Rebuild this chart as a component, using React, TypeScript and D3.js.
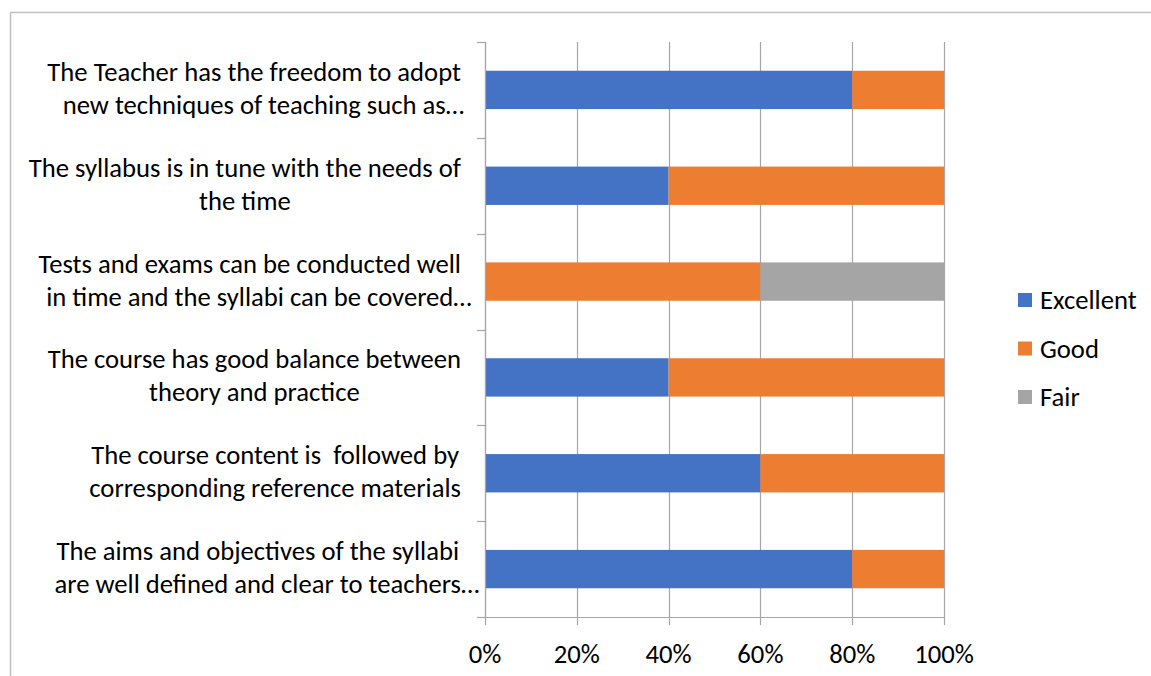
import { useEffect, useRef } from 'react';
import * as d3 from 'd3';

// categories top to bottom, each split into the two lines the chart shows
const categories: string[][] = [
    ['The Teacher has the freedom to adopt', 'new techniques of teaching such as…'],
    ['The syllabus is in tune with the needs of', 'the time'],
    ['Tests and exams can be conducted well', 'in time and the syllabi can be covered…'],
    ['The course has good balance between', 'theory and practice'],
    ['The course content is  followed by', 'corresponding reference materials'],
    ['The aims and objectives of the syllabi', 'are well defined and clear to teachers…'],
];

const seriesNames = ['Excellent', 'Good', 'Fair'];
const excellent = [80, 40, 0, 40, 60, 80];
const good = [20, 60, 60, 60, 40, 20];
const fair = [0, 0, 40, 0, 0, 0];
const seriesColors = ['#4472C4', '#ED7D31', '#A5A5A5'];
const xTicks = [0, 20, 40, 60, 80, 100];

const FONT = 'Carlito, Calibri, Lato, sans-serif';
const FONT_SIZE = 26.67; // 20pt

export default function App() {
    const svgRef = useRef<SVGSVGElement>(null);

    useEffect(() => {
        if (!svgRef.current) return;
        const svg = d3.select(svgRef.current);
        svg.selectAll('*').remove();

        const width = 1151, height = 676;
        const margin = { top: 42, right: 207, bottom: 59, left: 485 };
        const innerWidth = width - margin.left - margin.right;
        const innerHeight = height - margin.top - margin.bottom;

        // chart area border (only top and left show in the crop)
        svg.append('line').attr('x1', 10.5).attr('y1', 12.5).attr('x2', width).attr('y2', 12.5)
            .attr('stroke', '#bfbfbf').attr('stroke-width', 1.5);
        svg.append('line').attr('x1', 10.5).attr('y1', 12.5).attr('x2', 10.5).attr('y2', height)
            .attr('stroke', '#bfbfbf').attr('stroke-width', 1.5);

        const x = d3.scaleLinear().domain([0, 100]).range([0, innerWidth]);
        const y = d3.scaleBand<number>()
            .domain(d3.range(categories.length))
            .range([0, innerHeight])
            .paddingInner(0.6)
            .paddingOuter(0.3);

        const g = svg.append('g').attr('transform', `translate(${margin.left},${margin.top})`);

        // vertical grid lines
        g.selectAll('.grid')
            .data(xTicks)
            .enter()
            .append('line')
            .attr('x1', d => Math.round(x(d)) + 0.5)
            .attr('x2', d => Math.round(x(d)) + 0.5)
            .attr('y1', 0)
            .attr('y2', innerHeight)
            .attr('stroke', '#a6a6a6')
            .attr('stroke-width', 1.2);

        // stacked bars
        const rows = categories.map((_, i) => ({ i, Excellent: excellent[i], Good: good[i], Fair: fair[i] }));
        const stack = d3.stack<any>().keys(seriesNames)(rows);

        stack.forEach((layer, si) => {
            g.selectAll(`.bar-${si}`)
                .data(layer)
                .enter()
                .append('rect')
                .attr('x', d => x(d[0]))
                .attr('y', d => y(d.data.i)!)
                .attr('width', d => x(d[1]) - x(d[0]))
                .attr('height', y.bandwidth())
                .attr('fill', seriesColors[si]);
        });

        // left axis line with category separators
        const step = innerHeight / categories.length;
        g.append('line').attr('x1', 0.5).attr('x2', 0.5).attr('y1', 0).attr('y2', innerHeight)
            .attr('stroke', '#a6a6a6').attr('stroke-width', 1.2);
        g.selectAll('.ytick')
            .data(d3.range(categories.length + 1))
            .enter()
            .append('line')
            .attr('x1', -8)
            .attr('x2', 0)
            .attr('y1', d => Math.round(d * step) + 0.5)
            .attr('y2', d => Math.round(d * step) + 0.5)
            .attr('stroke', '#a6a6a6')
            .attr('stroke-width', 1.2);

        // bottom axis
        g.append('line').attr('x1', 0).attr('x2', innerWidth).attr('y1', innerHeight + 0.5).attr('y2', innerHeight + 0.5)
            .attr('stroke', '#a6a6a6').attr('stroke-width', 1.2);
        g.selectAll('.xtick')
            .data(xTicks)
            .enter()
            .append('line')
            .attr('x1', d => Math.round(x(d)) + 0.5)
            .attr('x2', d => Math.round(x(d)) + 0.5)
            .attr('y1', innerHeight)
            .attr('y2', innerHeight + 8)
            .attr('stroke', '#a6a6a6')
            .attr('stroke-width', 1.2);
        g.selectAll('.xlabel')
            .data(xTicks)
            .enter()
            .append('text')
            .attr('x', d => x(d))
            .attr('y', innerHeight + 46)
            .attr('text-anchor', 'middle')
            .attr('font-family', FONT)
            .attr('font-size', FONT_SIZE)
            .attr('fill', '#000')
            .text(d => `${d}%`);

        // category labels: block sits against the axis, lines centred in it
        // (Excel centres the text before the ellipsis is added)
        const labelRight = -24;
        const labels = g.selectAll('.ylabel')
            .data(categories)
            .enter()
            .append('text')
            .attr('font-family', FONT)
            .attr('font-size', FONT_SIZE)
            .attr('fill', '#000')
            .style('white-space', 'pre');
        labels.each(function (lines, i) {
            const t = d3.select(this);
            const widths = lines.map(line => {
                const probe = t.append('tspan').text(line.replace('…', ''));
                const w = (probe.node() as SVGTSpanElement).getComputedTextLength();
                probe.remove();
                return w;
            });
            const blockW = d3.max(widths) || 0;
            const cx = labelRight - blockW / 2;
            const cy = y(i)! + y.bandwidth() / 2;
            lines.forEach((line, li) => {
                t.append('tspan')
                    .attr('x', cx - widths[li] / 2)
                    .attr('y', cy + (li === 0 ? -9 : 24))
                    .text(line);
            });
        });

        // legend
        const legend = svg.append('g').attr('transform', 'translate(1018, 300)');
        seriesNames.forEach((name, i) => {
            const row = legend.append('g').attr('transform', `translate(0, ${i * 48.5})`);
            row.append('rect').attr('x', 0).attr('y', -7).attr('width', 14).attr('height', 14)
                .attr('fill', seriesColors[i]);
            row.append('text').attr('x', 22).attr('y', 9)
                .attr('font-family', FONT).attr('font-size', FONT_SIZE).attr('fill', '#000')
                .text(name);
        });
    }, []);

    return (
        <div style={{ position: 'absolute', top: 0, left: 0 }}>
            <svg ref={svgRef} width={1151} height={676} style={{ display: 'block', background: '#fff' }} />
        </div>
    );
}
